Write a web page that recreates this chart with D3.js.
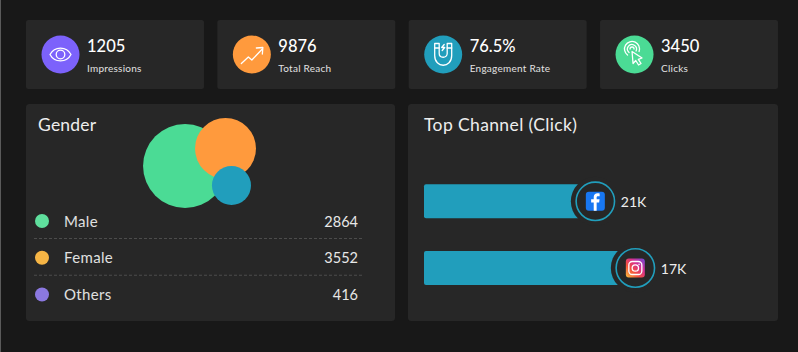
<!DOCTYPE html>
<html>
<head>
<meta charset="utf-8">
<script src="https://cdn.jsdelivr.net/npm/d3@7"></script>
<style>
  html, body { margin: 0; padding: 0; background: #181818; overflow: hidden; }
  svg { display: block; }
  text { font-family: Lato, "Noto Sans", sans-serif; }
</style>
</head>
<body>
<div id="chart"></div>
<script>
const statLabels = ['Impressions', 'Total Reach', 'Engagement Rate', 'Clicks'];
const statValues = ['1205', '9876', '76.5%', '3450'];
const statColors = ['#7c62fb', '#ff9a3d', '#219ebc', '#4bdb95'];

const genders = ['Male', 'Female', 'Others'];
const genderValues = [2864, 3552, 416];
const genderDots = ['#5fdf9d', '#f6b545', '#8b78e0'];

// bubble placement, in 0-100 plot units
const bubbleX = [37.2, 73, 78.3];
const bubbleY = [53.3, 33.9, 75];
const bubbleSize = [100, 52.7, 21.6];
const bubbleColors = ['#4bdb95', '#ff9a3d', '#219ebc'];

const channels = ['Facebook', 'Instagram'];
// drawn length does not follow the label in the source, so both are kept
const channelBars = [48.4, 59.7];
const channelLabels = ['21K', '17K'];

const width = 798, height = 352;
const panelFill = '#272727';

const svg = d3.select('#chart').append('svg')
  .attr('width', width)
  .attr('height', height)
  .attr('viewBox', `0 0 ${width} ${height}`);

svg.append('rect').attr('width', width).attr('height', height).attr('fill', '#181818');
svg.append('rect').attr('width', 1).attr('height', height).attr('fill', '#5a5a5a');

// stat cards
const cardX = d3.scaleBand().domain(statLabels).range([26, 778]).paddingInner(0.07);

const cards = svg.append('g').attr('id', 'cards')
  .selectAll('g')
  .data(statLabels)
  .join('g')
  .attr('transform', d => `translate(${cardX(d)},20)`);

cards.append('rect')
  .attr('width', cardX.bandwidth())
  .attr('height', 69)
  .attr('rx', 2.5)
  .attr('fill', panelFill);

cards.append('circle')
  .attr('cx', 34.5)
  .attr('cy', 34.5)
  .attr('r', 19)
  .attr('fill', (d, i) => statColors[i]);

cards.append('text')
  .attr('x', 61)
  .attr('y', 32)
  .attr('font-size', 16.5)
  .attr('font-weight', 500)
  .attr('fill', '#fff')
  .text((d, i) => statValues[i]);

cards.append('text')
  .attr('x', 61)
  .attr('y', 52)
  .attr('font-size', 10)
  .attr('letter-spacing', 0.25)
  .attr('fill', '#e2e2e2')
  .text(d => d);

// card glyphs, drawn around the icon circle centre
const glyphs = cards.append('g')
  .attr('transform', 'translate(34.5,34.5)')
  .attr('fill', 'none')
  .attr('stroke', '#fff')
  .attr('stroke-width', 1.3)
  .attr('stroke-linecap', 'round')
  .attr('stroke-linejoin', 'round');

const glyphPaths = [
  ['M-10.5,0C-6,-8.5 6,-8.5 10.5,0C6,8.5 -6,8.5 -10.5,0Z', 'M-4.3,0a4.3,4.3 0 1,0 8.6,0a4.3,4.3 0 1,0 -8.6,0'],
  ['M-10.5,9L-3.5,2.5L0,5.5L10,-5', 'M4.5,-6.5L11,-7L10.5,-0.5'],
  ['M-8.5,-11H-4V-1C-4,4 4,4 4,-1V-11H8.5V1C8.5,14 -8.5,14 -8.5,1Z', 'M-8.5,-6.5H-4M4,-6.5H8.5', 'M1,-10L-1.5,-7H1.5L-1,-4'],
  ['M-2.5,-3L-1.5,9L1.2,6L4,10.5L6.5,9L3.8,4.8L7.5,3.5Z', 'M-7,0.5A7.5,7.5 0 1,1 4.5,-3', 'M-5.5,-2A4.5,4.5 0 1,1 1.5,-3.5', 'M-4.5,-5.5a2,2 0 1,1 4,0']
];
glyphs.selectAll('path')
  .data((d, i) => glyphPaths[i])
  .join('path')
  .attr('d', d => d);

// gender panel
const genderPanel = svg.append('g').attr('id', 'gender');

genderPanel.append('rect')
  .attr('x', 26).attr('y', 104)
  .attr('width', 369).attr('height', 217)
  .attr('rx', 3.5)
  .attr('fill', panelFill);

genderPanel.append('text')
  .attr('x', 38).attr('y', 131)
  .attr('font-size', 17.5)
  .attr('letter-spacing', 0.2)
  .attr('fill', '#eee')
  .text('Gender');

const bx = d3.scaleLinear().domain([0, 100]).range([143, 256]);
const by = d3.scaleLinear().domain([0, 100]).range([118, 208]);
const br = d3.scaleSqrt().domain([0, 100]).range([0, 42]);

genderPanel.append('g')
  .selectAll('circle')
  .data(bubbleSize)
  .join('circle')
  .attr('cx', (d, i) => bx(bubbleX[i]))
  .attr('cy', (d, i) => by(bubbleY[i]))
  .attr('r', d => br(d))
  .attr('fill', (d, i) => bubbleColors[i]);

const rowY = d3.scalePoint().domain(genders).range([221, 294.5]);

const rows = genderPanel.append('g')
  .selectAll('g')
  .data(genders)
  .join('g')
  .attr('transform', d => `translate(0,${rowY(d)})`);

rows.append('circle')
  .attr('cx', 42).attr('r', 7)
  .attr('fill', (d, i) => genderDots[i]);

rows.append('text')
  .attr('x', 64).attr('y', 5.5)
  .attr('font-size', 15)
  .attr('letter-spacing', 0.35)
  .attr('fill', '#e0e0e0')
  .text(d => d);

rows.append('text')
  .attr('x', 358).attr('y', 5.5)
  .attr('text-anchor', 'end')
  .attr('font-size', 14.5)
  .attr('fill', '#e8e8e8')
  .text((d, i) => genderValues[i]);

rows.filter((d, i) => i < genders.length - 1)
  .append('line')
  .attr('x1', 34).attr('x2', 363)
  .attr('y1', 17.5).attr('y2', 17.5)
  .attr('stroke', '#4c4c4c')
  .attr('stroke-dasharray', '3 2');

// channel panel
const channelPanel = svg.append('g').attr('id', 'channels');

channelPanel.append('rect')
  .attr('x', 408).attr('y', 104)
  .attr('width', 370).attr('height', 217)
  .attr('rx', 3.5)
  .attr('fill', panelFill);

channelPanel.append('text')
  .attr('x', 424).attr('y', 131)
  .attr('font-size', 17.5)
  .attr('letter-spacing', 0.38)
  .attr('fill', '#eee')
  .text('Top Channel (Click)');

const grad = svg.append('defs').append('linearGradient')
  .attr('id', 'insta')
  .attr('x1', 0).attr('y1', 1).attr('x2', 1).attr('y2', 0);
grad.selectAll('stop')
  .data([['0%', '#fdc23e'], ['35%', '#f4503c'], ['65%', '#d52f93'], ['100%', '#6b4bd8']])
  .join('stop')
  .attr('offset', d => d[0])
  .attr('stop-color', d => d[1]);

const barX = d3.scaleLinear().domain([0, 100]).range([424, 778]);
const barY = d3.scalePoint().domain(channels).range([201.3, 268]);

const bars = channelPanel.append('g')
  .selectAll('g')
  .data(channels)
  .join('g')
  .attr('transform', d => `translate(0,${barY(d)})`);

bars.append('rect')
  .attr('x', barX(0))
  .attr('y', -17)
  .attr('width', (d, i) => barX(channelBars[i]) - barX(0))
  .attr('height', 34)
  .attr('rx', 2)
  .attr('fill', '#219ebc');

const badges = bars.append('g')
  .attr('transform', (d, i) => `translate(${barX(channelBars[i])},0)`);

badges.append('circle').attr('r', 24.5).attr('fill', panelFill);
badges.append('circle')
  .attr('r', 19.2)
  .attr('fill', panelFill)
  .attr('stroke', '#219ebc')
  .attr('stroke-width', 1.6);

badges.append('rect')
  .attr('x', -9.5).attr('y', -9.5)
  .attr('width', 19).attr('height', 19)
  .attr('rx', 3)
  .attr('fill', (d, i) => i === 0 ? '#1877f2' : 'url(#insta)');

badges.filter((d, i) => i === 0)
  .append('path')
  .attr('d', 'M-1.6,9.5V1.2H-4.2V-2H-1.6V-4.2C-1.6,-6.7 0,-8 2.2,-8C3.2,-8 4,-7.9 4.3,-7.9V-5.1H2.7C1.5,-5.1 1.3,-4.5 1.3,-3.7V-2H4.2L3.8,1.2H1.3V9.5Z')
  .attr('fill', '#fff');

const insta = badges.filter((d, i) => i === 1)
  .append('g')
  .attr('fill', 'none')
  .attr('stroke', '#fff')
  .attr('stroke-width', 1.3);
insta.append('rect').attr('x', -6.5).attr('y', -6.5).attr('width', 13).attr('height', 13).attr('rx', 3.5);
insta.append('circle').attr('r', 3.2);
insta.append('circle').attr('cx', 3.7).attr('cy', -3.7).attr('r', 0.5).attr('fill', '#fff').attr('stroke-width', 0.5);

bars.append('text')
  .attr('x', (d, i) => barX(channelBars[i]) + 25.5)
  .attr('y', 5.5)
  .attr('font-size', 14)
  .attr('fill', '#eee')
  .text((d, i) => channelLabels[i]);
</script>
</body>
</html>
